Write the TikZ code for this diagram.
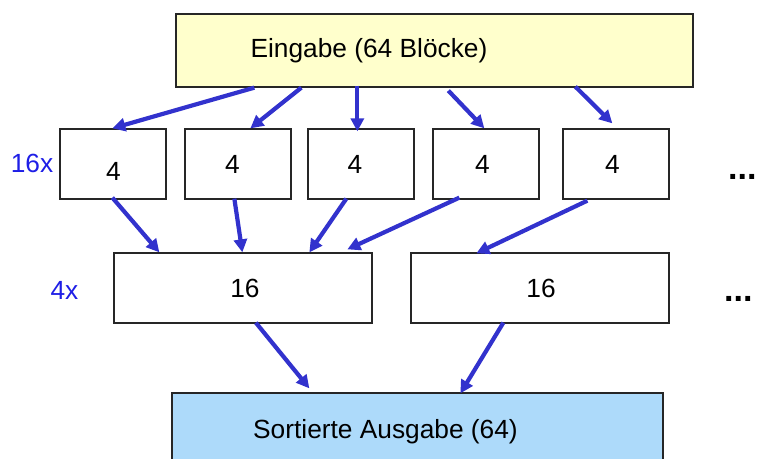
\documentclass[tikz,border=0pt]{standalone}
\usepackage{fontspec}
\setmainfont{Liberation Sans}
\usetikzlibrary{arrows.meta,calc}
\definecolor{inyellow}{RGB}{255,255,204}
\definecolor{outblue}{RGB}{173,218,250}
\definecolor{arrblue}{RGB}{50,50,205}
\definecolor{lblblue}{RGB}{30,30,230}
\begin{document}
\begin{tikzpicture}[x=1pt,y=-1pt,
  box/.style={draw=black!85, line width=1.3pt, rectangle, inner sep=0pt},
  small/.style={box, fill=white, minimum width=106pt, minimum height=70pt},
  wide/.style={box, fill=white, minimum width=258pt, minimum height=70pt},
  txt/.style={font=\fontsize{26.3}{30}\selectfont, inner sep=0pt, anchor=base},
  lbl/.style={txt, text=lblblue},
  arr/.style={draw=arrblue, line width=4.2pt, -{Triangle[length=13pt,width=13pt]}},
  dotsty/.style={font=\fontsize{34}{36}\selectfont\bfseries, inner sep=0pt, anchor=base west}]
\clip (0,0) rectangle (763,458);
% boxes
\node[box, fill=inyellow, minimum width=517pt, minimum height=73pt] (top) at (434.5,50.5) {};
\node[txt] (toptext) at (369,57.5) {Eingabe (64 Blöcke)};
\node[small] (b1) at (113,164) {};
\node[small] (b2) at (238,164) {};
\node[small] (b3) at (361,164) {};
\node[small] (b4) at (486,164) {};
\node[small] (b5) at (616,164) {};
\node[txt] (t1) at (113.5,180) {4};
\node[txt] (t2) at (232.5,173) {4};
\node[txt] (t3) at (355,173) {4};
\node[txt] (t4) at (482.5,173) {4};
\node[txt] (t5) at (612.5,173) {4};
\node[wide] (s1) at (243,288) {};
\node[wide] (s2) at (540,288) {};
\node[txt] (u1) at (245,297) {16};
\node[txt] (u2) at (541,297) {16};
\node[box, fill=outblue, minimum width=491pt, minimum height=80pt] (out) at (417.5,433) {};
\node[txt] (outtext) at (385.5,438) {Sortierte Ausgabe (64)};
% side labels
\node[lbl] (l16) at (32,172) {16x};
\node[lbl] (l4) at (64.5,299) {4x};
\node[dotsty] (d1) at (728,179.5) {...};
\node[dotsty] (d2) at (724,301.5) {...};
% arrows top -> row of 4
\draw[arr] ($(top.south west)+(79,0)$) -- ($(b1.north west)+(53,0)$);
\draw[arr] ($(top.south west)+(126,0)$) -- ($(b2.north west)+(66,0)$);
\draw[arr] ($(top.south west)+(182,-2)$) -- ($(b3.north west)+(50,3)$);
\draw[arr] ($(top.south west)+(273,3)$) -- ($(b4.north west)+(52,0)$);
\draw[arr] ($(top.south west)+(400,-1)$) -- ($(b5.north west)+(50,-5)$);
% row of 4 -> 16
\draw[arr] ($(b1.south west)+(53,-2)$) -- ($(s1.north west)+(46,0)$);
\draw[arr] ($(b2.south west)+(50,-1)$) -- ($(s1.north west)+(129,0)$);
\draw[arr] ($(b3.south west)+(39,-1)$) -- ($(s1.north west)+(196,0)$);
\draw[arr] ($(b4.south west)+(27,-2)$) -- ($(s1.north west)+(234,-3)$);
\draw[arr] ($(b5.south west)+(25,1)$) -- ($(s2.north west)+(66,1)$);
% 16 -> output
\draw[arr] ($(s1.south west)+(142.5,-1)$) -- ($(out.north west)+(138,-4)$);
\draw[arr] ($(s2.south west)+(93,-1)$) -- ($(out.north west)+(289,1)$);
\end{tikzpicture}
\end{document}
